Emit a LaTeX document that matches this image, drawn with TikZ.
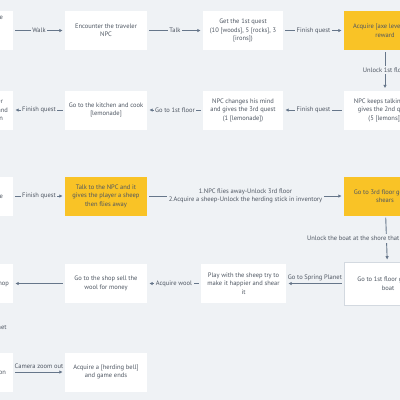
\documentclass[tikz,border=0pt]{standalone}
\usepackage{fontspec}
\setmainfont{PT Sans}
\usetikzlibrary{arrows.meta}
\definecolor{bg}{HTML}{EFF2F5}
\definecolor{ylw}{HTML}{F9C326}
\definecolor{txt}{HTML}{4D5561}
\definecolor{ln}{HTML}{66768A}
\definecolor{bdr}{HTML}{D3D9E0}
\begin{document}
\begin{tikzpicture}[x=1pt,y=-1pt,
  box/.style={rectangle, fill=white, minimum width=82pt, minimum height=39pt, inner sep=0pt, align=center, font=\fontsize{6.5}{8.5}\selectfont, text=txt},
  ybox/.style={box, fill=ylw},
  lbox/.style={box, align=right, text width=#1},
  conn/.style={draw=ln, line width=0.9pt, -{Latex[length=3.5pt,width=3.5pt]}, shorten <=2pt, shorten >=2pt},
  lbl/.style={fill=bg, inner sep=1.5pt, font=\fontsize{6.5}{8.5}\selectfont, text=txt, align=center}
]
\useasboundingbox (0,0) rectangle (400,400);
\clip (0,0) rectangle (400,400);
\fill[bg] (0,0) rectangle (400,400);

% row 1
\node[lbox=62pt] (l1) at (-28,30.5) {Enter the game\\ and land on\kern5pt\\ the farm\kern5pt\\ planet\kern5pt};
\node[box] (enc) at (106,30.5) {Encounter the traveler\\ NPC};
\node[box, minimum width=80pt] (q1) at (243,30.5) {Get the 1st quest\\ (10 [woods], 5 [rocks], 3\\ {}[irons])};
\node[ybox] (axe) at (385,30.5) {Acquire [axe level] as a\\ reward};
% row 2
\node[lbox=72pt] (l2) at (-28,110) {Receive a reward after\kern5pt\\ the NPC drinks it and\\ unlocks the kitchen\kern5pt};
\node[box] (cook) at (106,110) {Go to the kitchen and cook\\ {}[lemonade]};
\node[box, minimum width=80pt] (q3) at (243,110) {NPC changes his mind\\ and gives the 3rd quest\\ (1 [lemonade])};
\node[box] (q2) at (385,110) {NPC keeps talking and\\ gives the 2nd quest\\ (5 [lemons])};
% row 3
\node[lbox=62pt] (l3) at (-28,196) {Go to the 2nd floor\kern5pt\\ find the NPC there\\ with lemonade\kern5pt};
\node[ybox] (talk) at (106,196) {Talk to the NPC and it\\ gives the player a sheep\\ then flies away};
\node[ybox] (sh) at (385,196) {Go to 3rd floor get the\\ shears};
% row 4
\node[ybox, lbox=74pt] (l4) at (-28,283.5) {Buy food at the shop};
\node[box] (sell) at (106,283.5) {Go to the shop sell the\\ wool for money};
\node[box, minimum width=85pt] (play) at (243.5,283.5) {Play with the sheep try to\\ make it happier and shear\\ it};
\node[box, draw=bdr, line width=0.6pt, minimum width=88pt, minimum height=43pt] (boat) at (388,283.5) {Go to 1st floor get the\\ boat};
% row 5
\node[lbox=68pt] (l5) at (-28,372) {Return to the station};
\node[box] (bell) at (106,372) {Acquire a [herding bell]\\ and game ends};

% connectors
\draw[conn] (l1) -- node[lbl]{Walk} (enc);
\draw[conn] (enc) -- node[lbl]{Talk} (q1);
\draw[conn] (q1) -- node[lbl]{Finish quest} (axe);
\draw[conn] (axe) -- node[lbl]{Unlock 1st floor} (q2);
\draw[conn] (q2) -- node[lbl]{Finish quest} (q3);
\draw[conn] (q3) -- node[lbl]{Go to 1st floor} (cook);
\draw[conn] (cook) -- node[lbl]{Finish quest} (l2);
\draw[conn] (l3) -- node[lbl]{Finish quest} (talk);
\draw[conn] (talk) -- node[lbl]{1.NPC flies away-Unlock 3rd floor\\ 2.Acquire a sheep-Unlock the herding stick in inventory} (sh);
\draw[conn] (sh) -- node[lbl]{Unlock the boat at the shore that allows going out to sea} (boat);
\draw[conn] (boat) -- node[lbl, fill=none, above=1pt]{Go to Spring Planet} (play);
\draw[conn] (play) -- node[lbl]{Acquire wool} (sell);
\draw[conn] (sell) -- (l4);
\draw[conn] (l4) -- node[lbl, anchor=east, xshift=36.5pt]{Leave Spring Planet} (l5);
\draw[conn] (l5) -- node[lbl, fill=none, above=1pt]{Camera zoom out} (bell);
\end{tikzpicture}
\end{document}
